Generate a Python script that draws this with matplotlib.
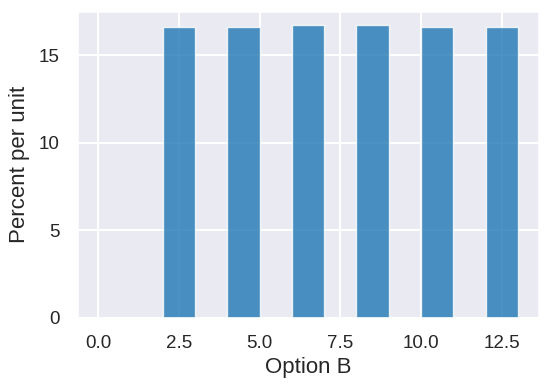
import matplotlib
matplotlib.use("Agg")
import matplotlib.pyplot as plt
import seaborn as sns

bin_lefts = [0, 1, 2, 3, 4, 5, 6, 7, 8, 9, 10, 11, 12]
percents = [0, 0, 16.6, 0, 16.6, 0, 16.7, 0, 16.7, 0, 16.6, 0, 16.6]
xlabel = "Option B"
ylabel = "Percent per unit"

sns.set_theme(style="darkgrid", context="talk")
plt.rcParams['font.family'] = ['Liberation Sans', 'DejaVu Sans']

fig = plt.figure(figsize=(5.49, 3.89), dpi=100)
ax = fig.add_axes([77/549, 1 - 318/389, (539-77)/549, (318-10.7)/389])
ax.bar(bin_lefts, percents, width=1, align='edge', color='#1f77b4', alpha=0.8,
       edgecolor='white', linewidth=1)
ax.set_xlim(-0.65, 13.65)
ax.set_ylim(0, max(percents) * 1.05)
ax.set_xticks([0, 2.5, 5, 7.5, 10, 12.5])
ax.set_yticks([0, 5, 10, 15])
ax.set_xlabel(xlabel, fontsize=16, labelpad=3)
ax.set_ylabel(ylabel, fontsize=16, labelpad=6)
ax.tick_params(labelsize=13.5)
fig.savefig("out.png", dpi=100)
